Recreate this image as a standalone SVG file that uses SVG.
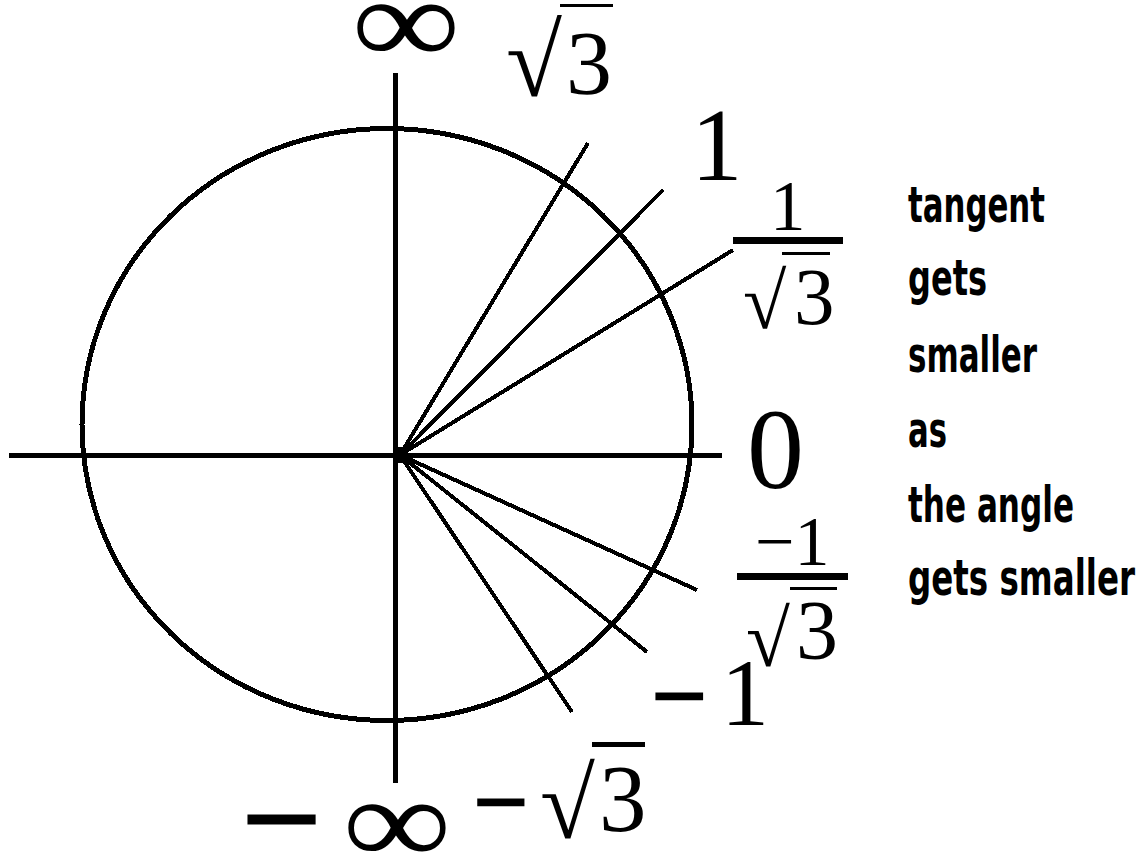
<svg xmlns="http://www.w3.org/2000/svg" width="1141" height="854" viewBox="0 0 1141 854">
<style>
.g{stroke:#000;fill:none;shape-rendering:crispEdges}
.ax{stroke-width:5}
.ray{stroke-width:4}
.m{font-family:"Liberation Serif","Times New Roman",serif;fill:#000}
.p{font-family:"DejaVu Sans",sans-serif;font-weight:bold;font-size:50px;fill:#000}
</style>
<rect width="1141" height="854" fill="#fff"/>
<g id="circle"><ellipse class="g" cx="387" cy="424.5" rx="305" ry="296" stroke-width="5"/></g>
<g id="axes">
<line class="g ax" x1="9" y1="455" x2="722" y2="455"/>
<line class="g ax" x1="395.5" y1="73" x2="395.5" y2="783"/>
</g>
<g id="connectors">
<line class="g ray" x1="400" y1="455" x2="588" y2="143"/>
<line class="g ray" x1="400" y1="455" x2="663" y2="190"/>
<line class="g ray" x1="400" y1="455" x2="733" y2="250"/>
<line class="g ray" x1="400" y1="455" x2="697" y2="590"/>
<line class="g ray" x1="400" y1="455" x2="647" y2="652"/>
<line class="g ray" x1="400" y1="455" x2="572" y2="712"/>
<rect x="393" y="447" width="12" height="16" fill="#000"/>
</g>
<g id="label-inf"><text class="m" font-size="140" transform="translate(351.5,63.5) scale(1.09,0.89)">∞</text></g>
<g id="label-sqrt3">
<text class="m" x="506" y="96" font-size="102">√</text>
<rect x="560" y="4" width="53" height="3" fill="#000"/>
<text class="m" x="566" y="94" font-size="92">3</text>
</g>
<g id="label-1"><text class="m" x="691" y="180" font-size="103">1</text></g>
<g id="label-inv-sqrt3">
<text class="m" x="770" y="230" font-size="71">1</text>
<rect x="733" y="237" width="110" height="7" fill="#000"/>
<text class="m" x="743" y="328" font-size="79">√</text>
<rect x="782" y="252" width="48" height="3" fill="#000"/>
<text class="m" x="794" y="324" font-size="81">3</text>
</g>
<g id="label-0"><text class="m" x="747" y="488" font-size="114">0</text></g>
<g id="label-neg-inv-sqrt3">
<text class="m" x="755" y="565" font-size="70">−1</text>
<rect x="737" y="573" width="111" height="7" fill="#000"/>
<text class="m" x="746" y="666" font-size="80">√</text>
<rect x="790" y="587" width="47" height="3" fill="#000"/>
<text class="m" x="796" y="659" font-size="84">3</text>
</g>
<g id="label-neg-1"><text class="m" x="652" y="728" font-size="96" stroke="#000" stroke-width="3">−</text><text class="m" x="721" y="725" font-size="96">1</text></g>
<g id="label-neg-sqrt3">
<text class="m" x="474" y="834" font-size="95" stroke="#000" stroke-width="3">−</text>
<text class="m" x="540" y="838" font-size="100">√</text>
<rect x="592" y="742" width="53" height="5" fill="#000"/>
<text class="m" x="599" y="831" font-size="95">3</text>
</g>
<g id="label-neg-inf">
<text class="m" x="242" y="866" font-size="140" stroke="#000" stroke-width="3">−</text>
<text class="m" font-size="140" transform="translate(342.5,863.5) scale(1.09,0.89)">∞</text>
</g>
<g id="note">
<text class="p" x="908" y="222" textLength="137" lengthAdjust="spacingAndGlyphs">tangent</text>
<text class="p" x="908" y="295" textLength="79" lengthAdjust="spacingAndGlyphs">gets</text>
<text class="p" x="908" y="372" textLength="129" lengthAdjust="spacingAndGlyphs">smaller</text>
<text class="p" x="908" y="447" textLength="39" lengthAdjust="spacingAndGlyphs">as</text>
<text class="p" x="908" y="522" textLength="166" lengthAdjust="spacingAndGlyphs">the angle</text>
<text class="p" x="908" y="595" textLength="227" lengthAdjust="spacingAndGlyphs">gets smaller</text>
</g>
</svg>
